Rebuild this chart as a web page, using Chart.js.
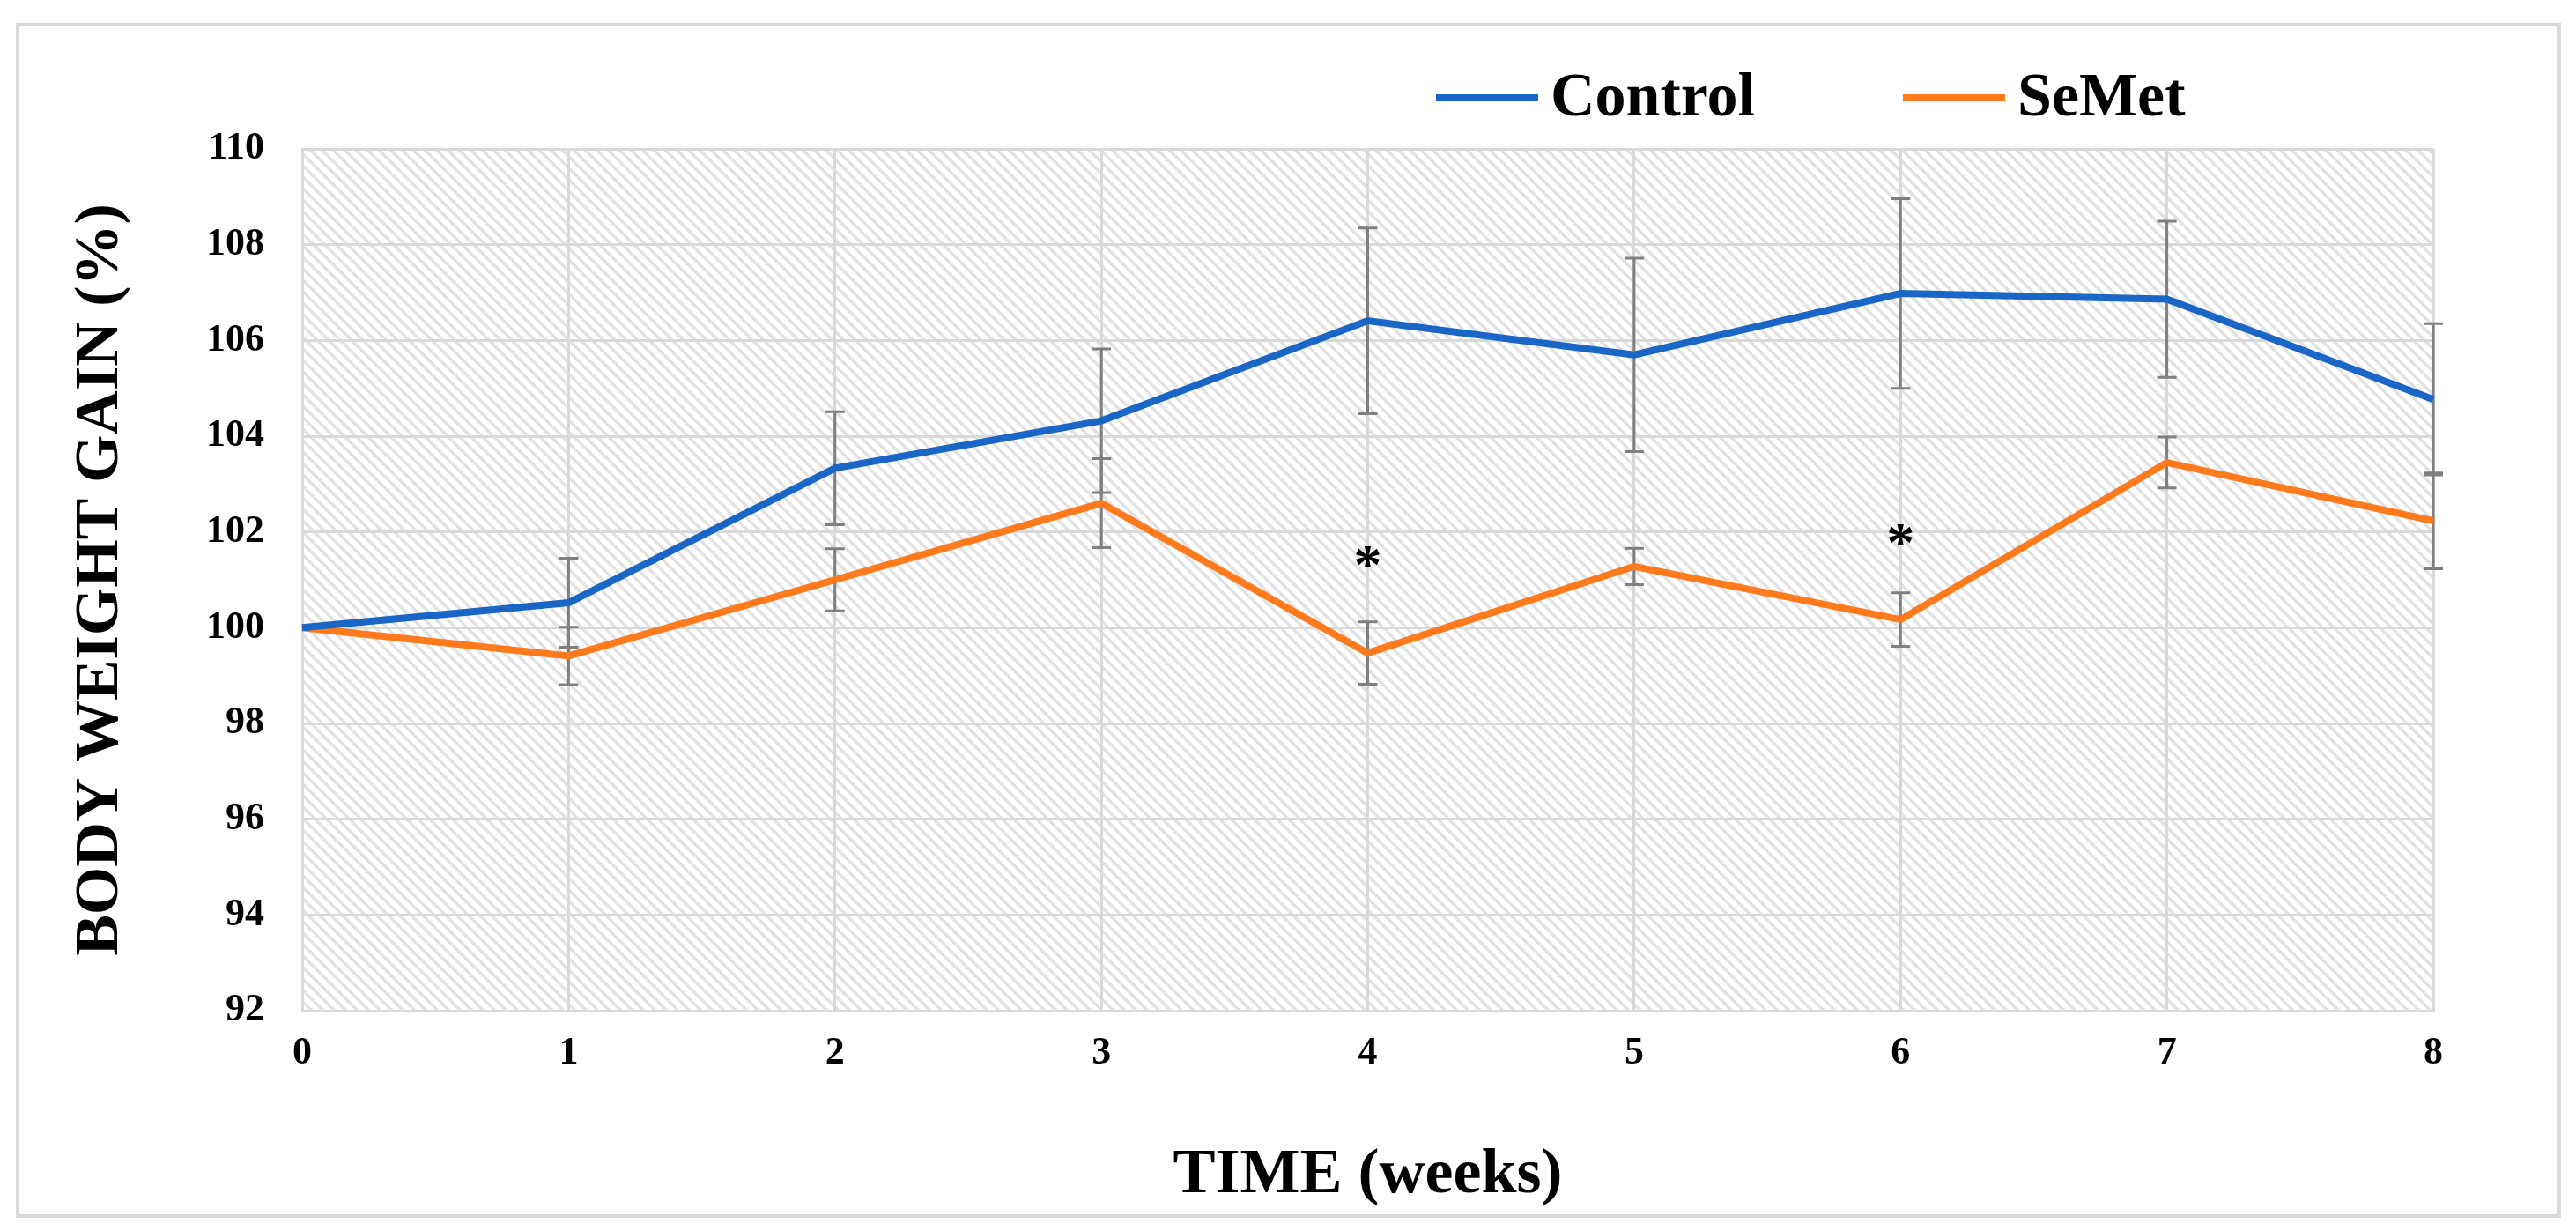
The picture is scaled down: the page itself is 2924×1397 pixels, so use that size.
<!DOCTYPE html>
<html>
<head>
<meta charset="utf-8">
<title>Body weight gain</title>
<script src="https://cdn.jsdelivr.net/npm/chart.js@4.4.1/dist/chart.umd.min.js"></script>
<style>
    html, body { margin: 0; padding: 0; background: #ffffff; }
    #wrap { width: 2924px; height: 1397px; position: relative; }
</style>
</head>
<body>
<div id="wrap"><canvas id="chart"></canvas></div>
<script>
// values
const weeks = ['0', '1', '2', '3', '4', '5', '6', '7', '8'];
const controlGain = [100, 100.52, 103.33, 104.32, 106.41, 105.70, 106.98, 106.86, 104.77];
const controlErr  = [0, 0.93, 1.18, 1.50, 1.94, 2.02, 1.98, 1.63, 1.58];
const semetGain   = [100, 99.41, 101.00, 102.60, 99.47, 101.28, 100.17, 103.45, 102.23];
const semetErr    = [0, 0.60, 0.65, 0.93, 0.65, 0.38, 0.56, 0.53, 1.00];
const sigWeeks = ['4', '6'];
const sigLevel = [101.47, 101.93];
const yTicks = [92, 94, 96, 98, 100, 102, 104, 106, 108, 110];

const FONT = '"Liberation Serif", "Times New Roman", serif';
const GRID = '#d9d9d9';

// diagonal hatching for the plot area
function makeHatch(ctx) {
    const s = 13;
    const tile = document.createElement('canvas');
    tile.width = s;
    tile.height = s;
    const t = tile.getContext('2d');
    t.strokeStyle = '#e2e2e2';
    t.lineWidth = 3.5;
    for (let k = -1; k <= 1; k++) {
        t.beginPath();
        t.moveTo(k * s - 2, -2);
        t.lineTo(k * s + s + 2, s + 2);
        t.stroke();
    }
    return ctx.createPattern(tile, 'repeat');
}

const hatchPlugin = {
    id: 'hatch',
    beforeDraw(chart) {
        const {ctx, chartArea: a} = chart;
        ctx.save();
        ctx.fillStyle = makeHatch(ctx);
        ctx.fillRect(a.left, a.top, a.right - a.left, a.bottom - a.top);
        ctx.restore();
    }
};

const errorBarPlugin = {
    id: 'errorBars',
    beforeDatasetsDraw(chart) {
        const {ctx, scales: {x, y}} = chart;
        const errs = [controlErr, semetErr];
        ctx.save();
        ctx.strokeStyle = '#7f7f7f';
        ctx.lineWidth = 3;
        chart.data.datasets.forEach((ds, i) => {
            ds.data.forEach((v, j) => {
                const e = errs[i][j];
                if (!e) return;
                const px = x.getPixelForValue(j);
                const top = y.getPixelForValue(v + e);
                const bot = y.getPixelForValue(v - e);
                ctx.beginPath();
                ctx.moveTo(px, top);
                ctx.lineTo(px, bot);
                ctx.moveTo(px - 11, top);
                ctx.lineTo(px + 11, top);
                ctx.moveTo(px - 11, bot);
                ctx.lineTo(px + 11, bot);
                ctx.stroke();
            });
        });
        ctx.restore();
    }
};

const extrasPlugin = {
    id: 'extras',
    afterDraw(chart) {
        const {ctx, scales: {x, y}} = chart;
        ctx.save();

        // significance marks
        ctx.fillStyle = '#000000';
        ctx.font = 'bold 64px ' + FONT;
        ctx.textAlign = 'center';
        ctx.textBaseline = 'alphabetic';
        const m = ctx.measureText('*');
        const shift = (m.actualBoundingBoxAscent - m.actualBoundingBoxDescent) / 2;
        sigWeeks.forEach((w, i) => {
            const px = x.getPixelForValue(weeks.indexOf(w));
            const py = y.getPixelForValue(sigLevel[i]);
            ctx.fillText('*', px, py + shift);
        });

        // legend
        const legendX = [1630, 2160];
        const legendY = 111;
        ctx.font = 'bold 70px ' + FONT;
        ctx.textAlign = 'left';
        ctx.textBaseline = 'middle';
        chart.data.datasets.forEach((ds, i) => {
            ctx.strokeStyle = ds.borderColor;
            ctx.lineWidth = ds.borderWidth;
            ctx.beginPath();
            ctx.moveTo(legendX[i], legendY);
            ctx.lineTo(legendX[i] + 116, legendY);
            ctx.stroke();
            ctx.fillStyle = '#000000';
            ctx.fillText(ds.label, legendX[i] + 130, legendY + 2);
        });

        // outer frame
        ctx.strokeStyle = GRID;
        ctx.lineWidth = 4;
        ctx.strokeRect(20, 28, 2885, 1352);
        ctx.restore();
    }
};

new Chart(document.getElementById('chart'), {
    type: 'line',
    data: {
        labels: weeks,
        datasets: [
            {
                label: 'Control',
                data: controlGain,
                borderColor: '#1a66c6',
                backgroundColor: '#1a66c6',
                borderWidth: 8,
                pointRadius: 0,
                tension: 0
            },
            {
                label: 'SeMet',
                data: semetGain,
                borderColor: '#ff7a1c',
                backgroundColor: '#ff7a1c',
                borderWidth: 8,
                pointRadius: 0,
                tension: 0
            }
        ]
    },
    options: {
        responsive: true,
        maintainAspectRatio: false,
        devicePixelRatio: 1,
        animation: false,
        layout: {
            padding: { left: 80, top: 169, right: 162, bottom: 27 }
        },
        plugins: {
            legend: { display: false },
            tooltip: { enabled: false }
        },
        scales: {
            x: {
                offset: false,
                afterFit(scale) { scale.height = 223; },
                grid: { color: GRID, lineWidth: 3, drawTicks: false },
                border: { display: true, color: GRID, width: 3 },
                ticks: {
                    color: '#000000',
                    padding: 22,
                    maxRotation: 0,
                    font: { family: FONT, size: 44, weight: 'bold' }
                },
                title: {
                    display: true,
                    text: 'TIME (weeks)',
                    color: '#000000',
                    padding: 0,
                    font: { family: FONT, size: 72, weight: 'bold', lineHeight: 1 }
                }
            },
            y: {
                min: yTicks[0],
                max: yTicks[yTicks.length - 1],
                afterFit(scale) { scale.width = 263; },
                afterBuildTicks(scale) {
                    scale.ticks = yTicks.map(v => ({ value: v }));
                },
                grid: { color: GRID, lineWidth: 3, drawTicks: false },
                border: { display: true, color: GRID, width: 3 },
                ticks: {
                    color: '#000000',
                    padding: 43,
                    font: { family: FONT, size: 44, weight: 'bold' }
                },
                title: {
                    display: true,
                    text: 'BODY WEIGHT GAIN (%)',
                    color: '#000000',
                    padding: 0,
                    font: { family: FONT, size: 70, weight: 'bold', lineHeight: 1 }
                }
            }
        }
    },
    plugins: [hatchPlugin, errorBarPlugin, extrasPlugin]
});
</script>
</body>
</html>
